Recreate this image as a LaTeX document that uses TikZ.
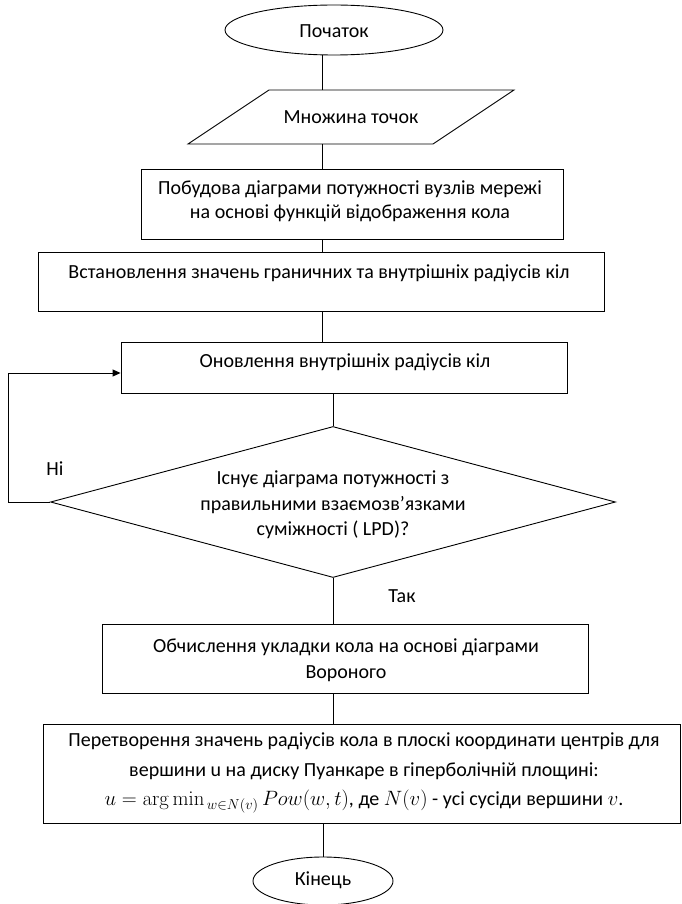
\documentclass[tikz,border=0pt]{standalone}
\usepackage[no-math]{fontspec}
\setmainfont{Carlito}
\usetikzlibrary{shapes.geometric,arrows.meta}
\tikzset{
  conn/.style={line width=0.9pt, draw=black},
  box/.style={draw=black, line width=0.9pt, rectangle, inner sep=0pt},
  term/.style={draw=black, line width=0.9pt, ellipse, inner sep=0pt},
  decis/.style={draw=black, line width=0.9pt, diamond, inner sep=0pt},
  txt/.style={font=\fontsize{20}{24}\selectfont, align=center, inner sep=0pt, text=black},
}
\begin{document}
\begin{tikzpicture}[x=1pt,y=-1pt]
\useasboundingbox[fill=white] (0,0) rectangle (681,904);
% start
\node[term, minimum width=218pt, minimum height=50pt] (start) at (334,30) {};
\node[txt] (startt) at (334,31.5) {Початок};
% data parallelogram
\coordinate (dTL) at (269,90);
\coordinate (dTR) at (514,90);
\coordinate (dBR) at (433,144);
\coordinate (dBL) at (188,144);
\draw[conn] (dTL) -- (dTR) -- (dBR) -- (dBL) -- cycle;
\node[txt] (data) at (351,117) {Множина точок};
% boxes
\node[box, minimum width=422pt, minimum height=70pt] (b1) at (352,204) {};
\node[txt] (b1t) at (350,201) {Побудова діаграми потужності вузлів мережі\\на основі функцій відображення кола};
\node[box, minimum width=566pt, minimum height=59pt] (b2) at (321,281.5) {};
\node[txt] (b2t) at (319,273) {Встановлення значень граничних та внутрішніх радіусів кіл};
\node[box, minimum width=446pt, minimum height=51pt] (b3) at (344,367.5) {};
\node[txt] (b3t) at (345,362) {Оновлення внутрішніх радіусів кіл};
\node[decis, minimum width=565pt, minimum height=151pt] (dia) at (333,502) {};
\node[txt, font=\fontsize{20}{25.5}\selectfont] (diat) at (333,505) {Існує діаграма потужності з\\правильними взаємозв’язками\\суміжності ( LPD)?};
\node[box, minimum width=486pt, minimum height=69pt] (b4) at (345,658.5) {};
\node[txt, font=\fontsize{20}{26}\selectfont] (b4t) at (346,660) {Обчислення укладки кола на основі діаграми\\Вороного};
\node[box, minimum width=637pt, minimum height=99pt] (b5) at (361.5,773.5) {};
\node[txt, font=\fontsize{20}{29.5}\selectfont] (b5t) at (364,773) {Перетворення значень радіусів кола в плоскі координати центрів для\\вершини u на диску Пуанкаре в гіперболічній площині:\\$u = \arg\min\nolimits_{\,w\in N(v)} Pow(w,t)$, де $N(v)$ - усі сусіди вершини $v$.};
\node[term, minimum width=140pt, minimum height=48pt] (end) at (323,881) {};
\node[txt] (endt) at (323,880) {Кінець};
% labels
\node[txt] (no) at (55,469) {Ні};
\node[txt] (yes) at (402,596) {Так};
% connectors
\draw[conn] (322,0 |- start.south) -- (322,0 |- dTL);
\draw[conn] (322,0 |- dBL) -- (322,0 |- b1.north);
\draw[conn] (322,0 |- b1.south) -- (322,0 |- b2.north);
\draw[conn] (322,0 |- b2.south) -- (322,0 |- b3.north);
\draw[conn] (dia.north |- b3.south) -- (dia.north);
\draw[conn] (dia.south) -- (dia.south |- b4.north);
\draw[conn] (dia.south |- b4.south) -- (dia.south |- b5.north);
\draw[conn] (end.north |- b5.south) -- (end.north);
\draw[conn, -{Triangle[length=8pt,width=7pt]}] (dia.west) -- (8,0 |- dia.west) |- (b3.west |- 0,373);
\end{tikzpicture}
\end{document}
